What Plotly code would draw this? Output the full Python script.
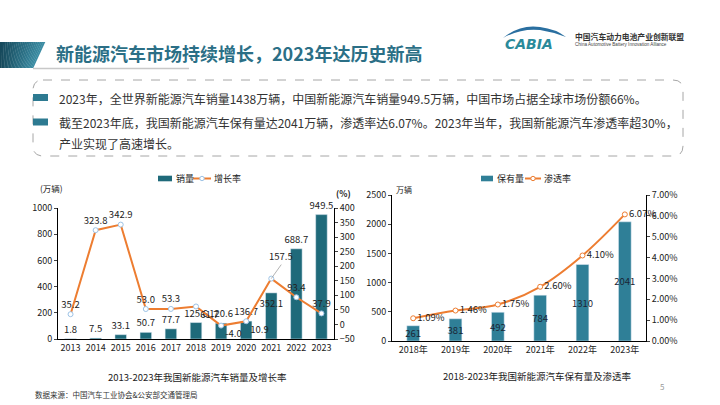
import plotly.graph_objects as go

# ---------------- data ----------------
years_sales = ["2013", "2014", "2015", "2016", "2017", "2018", "2019", "2020", "2021", "2022", "2023"]
sales = [1.8, 7.5, 33.1, 50.7, 77.7, 125.6, 120.6, 136.7, 352.1, 688.7, 949.5]
growth = [35.2, 323.8, 342.9, 53.0, 53.3, 61.7, -4.0, 10.9, 157.5, 93.4, 37.9]

years_stock = ["2018年", "2019年", "2020年", "2021年", "2022年", "2023年"]
stock = [261, 381, 492, 784, 1310, 2041]
penetration = [0.0109, 0.0146, 0.0175, 0.0260, 0.0410, 0.0607]

W, H = 720, 405
FONT = "Noto Sans CJK SC, Noto Sans, sans-serif"
TEAL_L = "#1f6a7a"
TEAL_R = "#2f7f97"
ORANGE = "#ed7d31"
DARK = "#222222"


def X(px):
    return px / W


def Y(py):
    return 1 - py / H


fig = go.Figure()

# ---------------- left chart ----------------
sales_pos = ["inside" if y == "2021" else "outside" for y in years_sales]
fig.add_trace(go.Bar(
    x=years_sales, y=sales, name="销量", xaxis="x", yaxis="y",
    marker=dict(color=TEAL_L), width=0.46,
    text=[f"{v:.1f}" for v in sales], textposition=sales_pos, textangle=0,
    insidetextanchor="end", constraintext="none",
    textfont=dict(size=9.5, color=DARK), cliponaxis=False,
    showlegend=False,
))

growth_pos = []
growth_txt = []
for i, v in enumerate(growth):
    if years_sales[i] in ("2018", "2019", "2020"):
        growth_pos.append("bottom right")
    else:
        growth_pos.append("top center")
    growth_txt.append("" if years_sales[i] == "2021" else f"{v:.1f}")

fig.add_trace(go.Scatter(
    x=years_sales, y=growth, name="增长率", xaxis="x", yaxis="y2",
    mode="lines+markers+text",
    line=dict(color=ORANGE, width=2),
    marker=dict(symbol="circle", size=5, color="white",
                line=dict(color="#9dc3e6", width=1)),
    text=growth_txt, textposition=growth_pos,
    textfont=dict(size=9.5, color=DARK), cliponaxis=False,
    showlegend=False,
))

# ---------------- right chart ----------------
fig.add_trace(go.Bar(
    x=years_stock, y=stock, name="保有量", xaxis="x2", yaxis="y3",
    marker=dict(color=TEAL_R), width=0.3,
    text=[str(v) for v in stock], textposition="inside", textangle=0,
    insidetextanchor="middle", constraintext="none",
    textfont=dict(size=9.5, color="#1b2635"),
    showlegend=False,
))
fig.add_trace(go.Scatter(
    x=years_stock, y=penetration, name="渗透率", xaxis="x2", yaxis="y4",
    mode="lines+markers+text",
    line=dict(color=ORANGE, width=2, shape="spline"),
    marker=dict(symbol="circle", size=5, color="white",
                line=dict(color=ORANGE, width=1)),
    text=[f"{v*100:.2f}%" for v in penetration], textposition="middle right",
    textfont=dict(size=9.5, color=DARK), cliponaxis=False,
    showlegend=False,
))

axis_common = dict(showline=True, linecolor="#000000", linewidth=1,
                   showgrid=False, zeroline=False, automargin=False,
                   tickfont=dict(size=9, color=DARK, family=FONT))

fig.update_layout(
    width=W, height=H,
    margin=dict(l=0, r=0, t=0, b=0, pad=0),
    paper_bgcolor="white", plot_bgcolor="white",
    font=dict(family=FONT, color=DARK),
    showlegend=False,
    xaxis=dict(domain=[X(58), X(334)], anchor="y", type="category",
               range=[-0.5, len(years_sales) - 0.5], ticks="", **axis_common),
    yaxis=dict(domain=[Y(339), Y(208)], anchor="x", range=[0, 1000], dtick=200,
               ticks="outside", ticklen=3, **axis_common),
    yaxis2=dict(overlaying="y", anchor="x", side="right", range=[-50, 400], dtick=50,
                ticks="outside", ticklen=3, **axis_common),
    xaxis2=dict(domain=[X(392), X(646)], anchor="y3", type="category",
                range=[-0.5, len(years_stock) - 0.5], ticks="", **axis_common),
    yaxis3=dict(domain=[Y(341), Y(195)], anchor="x2", range=[0, 2500], dtick=500,
                ticks="outside", ticklen=3, **axis_common),
    yaxis4=dict(overlaying="y3", anchor="x2", side="right", range=[0, 0.07], dtick=0.01,
                tickformat=".2%", ticks="outside", ticklen=3, **axis_common),
)

shapes = []
annotations = []

# header gradient parallelogram
n = 24
c0 = (0x17, 0x4a, 0x5c)
c1 = (0x3c, 0x8d, 0xa4)
for i in range(n):
    t = i / (n - 1)
    col = "rgb(%d,%d,%d)" % tuple(int(c0[k] + (c1[k] - c0[k]) * t) for k in range(3))
    xt0, xt1 = 45 * i / n, 45 * (i + 1) / n + 0.3
    xb0, xb1 = 33 * i / n, 33 * (i + 1) / n + 0.3
    path = (f"M {X(xt0)} {Y(42)} L {X(xt1)} {Y(42)} "
            f"L {X(xb1)} {Y(68)} L {X(xb0)} {Y(68)} Z")
    shapes.append(dict(type="path", xref="paper", yref="paper", path=path,
                       fillcolor=col, line=dict(width=0), layer="above"))
# header underline
shapes.append(dict(type="line", xref="paper", yref="paper",
                   x0=X(33), x1=X(189), y0=Y(68.5), y1=Y(68.5),
                   line=dict(color="#c8c8c8", width=1.5)))

annotations.append(dict(text="<b>新能源汽车市场持续增长，2023年达历史新高</b>",
                        xref="paper", yref="paper", x=X(54), y=Y(53),
                        xanchor="left", yanchor="middle", showarrow=False,
                        font=dict(size=18, color="#2b6f86", family=FONT)))

# logo
shapes.append(dict(type="path", xref="paper", yref="paper",
                   path=(f"M {X(503)} {Y(38)} Q {X(520)} {Y(24)} {X(540)} {Y(27)} "
                         f"Q {X(556)} {Y(29)} {X(566)} {Y(37)} "
                         f"Q {X(553)} {Y(32)} {X(540)} {Y(30)} "
                         f"Q {X(521)} {Y(28)} {X(503)} {Y(38)} Z"),
                   fillcolor="#2a6fa0", line=dict(width=0)))
annotations.append(dict(text="<b><i>CABIA</i></b>", xref="paper", yref="paper",
                        x=X(529), y=Y(44), xanchor="center", yanchor="middle",
                        showarrow=False,
                        font=dict(size=14, color="#2a8a9a", family="DejaVu Sans")))
annotations.append(dict(text="<b>中国汽车动力电池产业创新联盟</b>", xref="paper", yref="paper",
                        x=X(573), y=Y(36), xanchor="left", yanchor="middle",
                        showarrow=False, font=dict(size=7.8, color="#333333", family=FONT)))
annotations.append(dict(text="China Automotive Battery Innovation Alliance", xref="paper",
                        yref="paper", x=X(573), y=Y(44.5), xanchor="left", yanchor="middle",
                        showarrow=False, font=dict(size=4.6, color="#444444", family="Liberation Sans")))

# dashed rounded text box
x0b, x1b, y0b, y1b, r = 33, 683, 80, 156, 10
box = (f"M {X(x0b + r)} {Y(y0b)} L {X(x1b - r)} {Y(y0b)} "
       f"Q {X(x1b)} {Y(y0b)} {X(x1b)} {Y(y0b + r)} "
       f"L {X(x1b)} {Y(y1b - r)} Q {X(x1b)} {Y(y1b)} {X(x1b - r)} {Y(y1b)} "
       f"L {X(x0b + r)} {Y(y1b)} Q {X(x0b)} {Y(y1b)} {X(x0b)} {Y(y1b - r)} "
       f"L {X(x0b)} {Y(y0b + r)} Q {X(x0b)} {Y(y0b)} {X(x0b + r)} {Y(y0b)} Z")
shapes.append(dict(type="path", xref="paper", yref="paper", path=box,
                   line=dict(color="#a6a6a6", width=1, dash="dash")))

# bullets
for yc in (97.5, 122):
    shapes.append(dict(type="rect", xref="paper", yref="paper",
                       x0=X(33), x1=X(48), y0=Y(yc + 3.5), y1=Y(yc - 3.5),
                       fillcolor="#2d7a91", line=dict(width=0)))

lines = [
    ("2023年，全世界新能源汽车销量1438万辆，中国新能源汽车销量949.5万辆，中国市场占据全球市场份额66%。", 98),
    ("截至2023年底，我国新能源汽车保有量达2041万辆，渗透率达6.07%。2023年当年，我国新能源汽车渗透率超30%，", 122),
    ("产业实现了高速增长。", 143),
]
for txt, yy in lines:
    annotations.append(dict(text=txt, xref="paper", yref="paper", x=X(57), y=Y(yy),
                            xanchor="left", yanchor="middle", showarrow=False,
                            font=dict(size=12, color="#333333", family=FONT)))

# 157.5 label with leader line (x given as category index)
i21 = years_sales.index("2021")
annotations.append(dict(text=f"{growth[i21]:.1f}", x=i21, y=growth[i21],
                        xref="x", yref="y2", showarrow=True, arrowhead=0,
                        arrowcolor="#a0a0a0", arrowwidth=0.8, ax=10, ay=-14,
                        xanchor="center", yanchor="bottom",
                        font=dict(size=9.5, color=DARK)))

# manual legends
def legend_bar(x0, x1, yc, color, label):
    shapes.append(dict(type="rect", xref="paper", yref="paper",
                       x0=X(x0), x1=X(x1), y0=Y(yc + 2.8), y1=Y(yc - 2.8),
                       fillcolor=color, line=dict(width=0)))
    annotations.append(dict(text=label, xref="paper", yref="paper", x=X(x1 + 2), y=Y(yc),
                            xanchor="left", yanchor="middle", showarrow=False,
                            font=dict(size=9, color=DARK)))


def legend_line(x0, x1, yc, mcolor, label):
    shapes.append(dict(type="line", xref="paper", yref="paper",
                       x0=X(x0), x1=X(x1), y0=Y(yc), y1=Y(yc),
                       line=dict(color=ORANGE, width=2)))
    xm = (x0 + x1) / 2
    shapes.append(dict(type="circle", xref="paper", yref="paper",
                       x0=X(xm - 2.2), x1=X(xm + 2.2), y0=Y(yc + 2.2), y1=Y(yc - 2.2),
                       fillcolor="white", line=dict(color=mcolor, width=1)))
    annotations.append(dict(text=label, xref="paper", yref="paper", x=X(x1 + 1), y=Y(yc),
                            xanchor="left", yanchor="middle", showarrow=False,
                            font=dict(size=9, color=DARK)))


legend_bar(158, 172, 178.5, TEAL_L, "销量")
legend_line(193, 211, 178.5, "#9dc3e6", "增长率")
legend_bar(481, 493, 178.5, TEAL_R, "保有量")
legend_line(525, 541, 178.5, ORANGE, "渗透率")

# axis titles
annotations.append(dict(text="(万辆)", xref="paper", yref="paper", x=X(52), y=Y(188),
                        xanchor="center", yanchor="middle", showarrow=False,
                        font=dict(size=8.5, color=DARK)))
annotations.append(dict(text="<b>(%)</b>", xref="paper", yref="paper", x=X(343), y=Y(193),
                        xanchor="center", yanchor="middle", showarrow=False,
                        font=dict(size=8.5, color=DARK)))
annotations.append(dict(text="万辆", xref="paper", yref="paper", x=X(404), y=Y(189),
                        xanchor="center", yanchor="middle", showarrow=False,
                        font=dict(size=8, color=DARK)))

# chart titles
annotations.append(dict(text="2013-2023年我国新能源汽车销量及增长率", xref="paper", yref="paper",
                        x=X(197), y=Y(377), xanchor="center", yanchor="middle",
                        showarrow=False, font=dict(size=9.5, color=DARK)))
annotations.append(dict(text="2018-2023年我国新能源汽车保有量及渗透率", xref="paper", yref="paper",
                        x=X(537), y=Y(376), xanchor="center", yanchor="middle",
                        showarrow=False, font=dict(size=9.5, color=DARK)))

# footer
annotations.append(dict(text="数据来源：中国汽车工业协会&公安部交通管理局", xref="paper", yref="paper",
                        x=X(33), y=Y(394), xanchor="left", yanchor="middle",
                        showarrow=False, font=dict(size=7.5, color="#333333")))
annotations.append(dict(text="5", xref="paper", yref="paper", x=X(662), y=Y(386),
                        xanchor="center", yanchor="middle", showarrow=False,
                        font=dict(size=8, color="#9a9a9a")))

fig.update_layout(shapes=shapes, annotations=annotations)

fig.write_html("out.html",
               config={"displayModeBar": False},
               post_script="document.body.style.margin='0';document.body.style.overflow='hidden';")
